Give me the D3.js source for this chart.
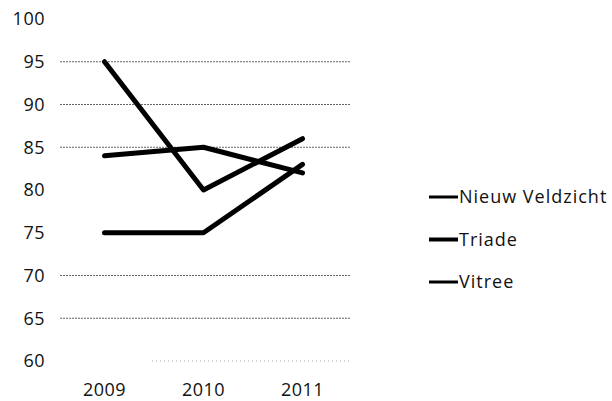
<!DOCTYPE html>
<html>
<head>
<meta charset="utf-8">
<script src="https://cdn.jsdelivr.net/npm/d3@7"></script>
<style>
  body { margin: 0; background: #fff; }
  text { font-family: "Open Sans", sans-serif; fill: #111; }
</style>
</head>
<body>
<div id="chart"></div>
<script>
// Data
const years = ["2009", "2010", "2011"];
const seriesNames = ["Nieuw Veldzicht", "Triade", "Vitree"];
const nieuwVeldzicht = [95, 80, 86];
const triade = [84, 85, 82];
const vitree = [75, 75, 83];
const yTicks = [60, 65, 70, 75, 80, 85, 90, 95, 100];
const gridValues = [65, 70, 85, 90, 95];

const seriesValues = [nieuwVeldzicht, triade, vitree];

const width = 612, height = 401;
const margin = { top: 19, right: 260, bottom: 40, left: 55 };

const svg = d3.select("#chart").append("svg")
    .attr("width", width)
    .attr("height", height);

const x = d3.scaleBand()
    .domain(years)
    .range([margin.left, 352]);

const y = d3.scaleLinear()
    .domain([60, 100])
    .range([361, margin.top]);

// dotted gridlines
svg.selectAll(".grid")
    .data(gridValues)
    .enter()
    .append("line")
    .attr("class", "grid")
    .attr("x1", margin.left + 5)
    .attr("x2", 350)
    .attr("y1", d => y(d))
    .attr("y2", d => y(d))
    .attr("stroke", "#666")
    .attr("stroke-width", 1)
    .attr("stroke-dasharray", "2,1");

// faint base line at 60
svg.append("line")
    .attr("x1", 152).attr("x2", 350)
    .attr("y1", y(60)).attr("y2", y(60))
    .attr("stroke", "#aaa")
    .attr("stroke-dasharray", "1,3");

// y axis labels
svg.append("g")
    .attr("transform", `translate(45,0)`)
    .call(d3.axisLeft(y).tickValues(yTicks).tickSize(0).tickPadding(0))
    .call(g => g.select(".domain").remove())
    .selectAll("text")
    .style("font-size", "18px")
    .style("font-family", "Open Sans, sans-serif")
    .style("letter-spacing", "0.5px")
    .attr("fill", "#111");

// x axis labels
svg.append("g")
    .attr("transform", `translate(0,383)`)
    .call(d3.axisBottom(x).tickSize(0).tickPadding(0))
    .call(g => g.select(".domain").remove())
    .selectAll("text")
    .style("font-size", "18px")
    .style("font-family", "Open Sans, sans-serif")
    .style("letter-spacing", "0.5px")
    .attr("fill", "#111");

// lines
const line = d3.line()
    .x((d, i) => x(years[i]) + x.bandwidth() / 2)
    .y(d => y(d));

svg.selectAll(".series")
    .data(seriesValues)
    .enter()
    .append("path")
    .attr("class", "series")
    .attr("d", d => line(d))
    .attr("fill", "none")
    .attr("stroke", "#000")
    .attr("stroke-width", 5)
    .attr("stroke-linejoin", "round")
    .attr("stroke-linecap", "round");

// legend
const legend = svg.selectAll(".legend")
    .data(seriesNames)
    .enter()
    .append("g")
    .attr("class", "legend")
    .attr("transform", (d, i) => `translate(429,${197 + i * 42.5})`);

legend.append("line")
    .attr("x1", 0).attr("x2", 29)
    .attr("stroke", "#000")
    .attr("stroke-width", (d, i) => i === 1 ? 4 : 3);

legend.append("text")
    .attr("x", 30)
    .attr("dy", "0.35em")
    .style("font-size", "18px")
    .style("letter-spacing", "1px")
    .text(d => d);
</script>
</body>
</html>
